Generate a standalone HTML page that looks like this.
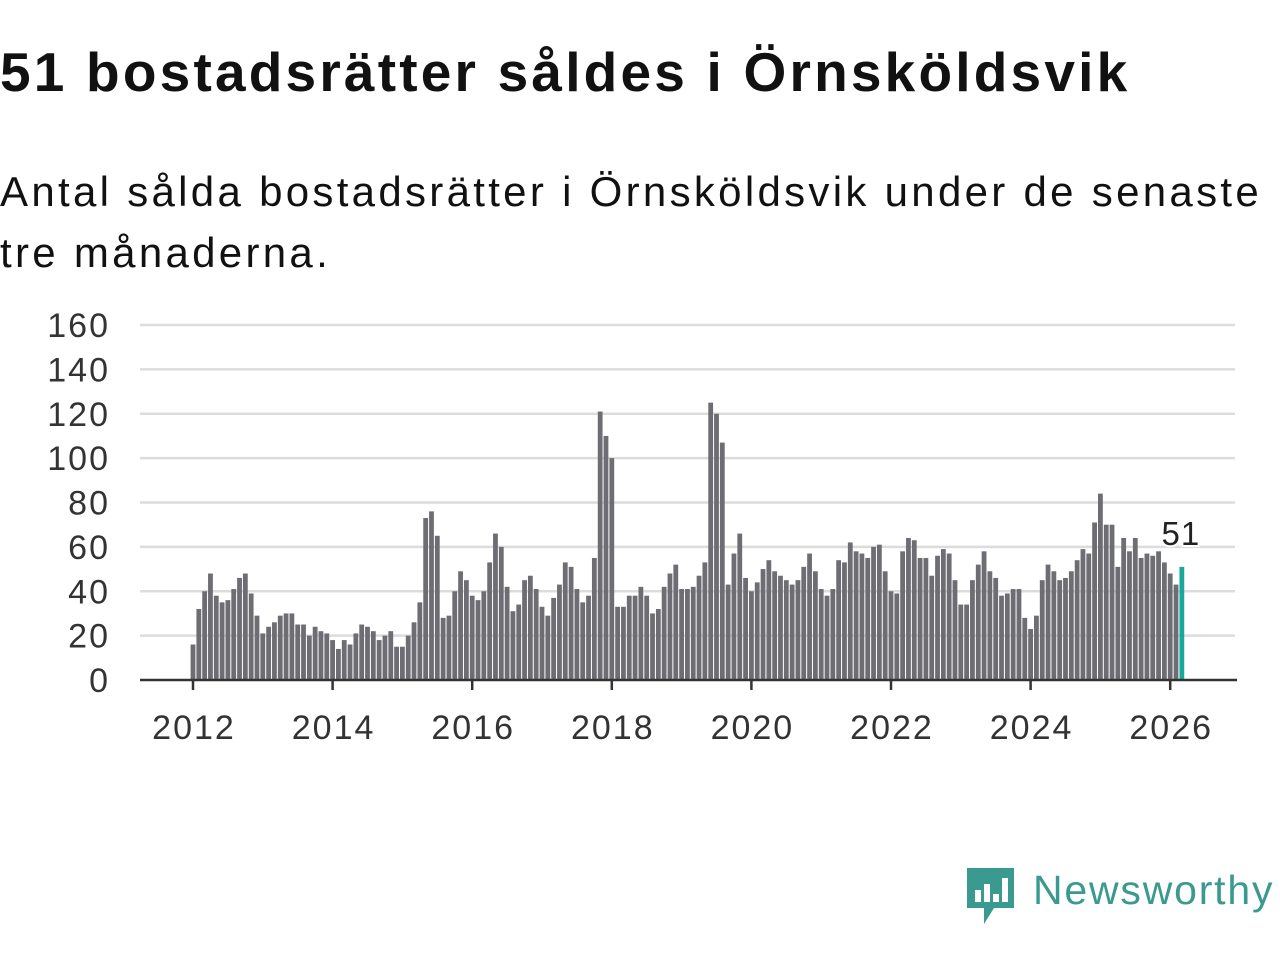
<!DOCTYPE html>
<html><head><meta charset="utf-8"><style>
body{margin:0;width:1280px;height:960px;background:#fff;overflow:hidden;font-family:"Liberation Sans","DejaVu Sans",sans-serif;color:#111}
#title{position:absolute;left:0;top:40px;font-size:55px;font-weight:bold;margin:0;white-space:nowrap;letter-spacing:3.2px}
#sub{position:absolute;left:0;top:161px;font-size:42px;line-height:61px;width:1275px;margin:0;letter-spacing:3.3px}
svg{position:absolute;left:0;top:0}
</style></head><body>
<h1 id="title">51 bostadsrätter såldes i Örnsköldsvik</h1>
<p id="sub">Antal sålda bostadsrätter i Örnsköldsvik under de senaste tre månaderna.</p>
<svg id="chart" width="1280" height="960"></svg>
<script>
const yTicks=[0,20,40,60,80,100,120,140,160];
const xTickYears=[2012,2014,2016,2018,2020,2022,2024,2026];
const startYear=2012;
const values2012=[16,32,40,48,38,35,36,41,46,48,39,29];
const values2013=[21,24,26,29,30,30,25,25,20,24,22,21];
const values2014=[18,14,18,16,21,25,24,22,18,20,22,15];
const values2015=[15,20,26,35,73,76,65,28,29,40,49,45];
const values2016=[38,36,40,53,66,60,42,31,34,45,47,41];
const values2017=[33,29,37,43,53,51,41,35,38,55,121,110];
const values2018=[100,33,33,38,38,42,38,30,32,42,48,52];
const values2019=[41,41,42,47,53,125,120,107,43,57,66,46];
const values2020=[40,44,50,54,49,47,45,43,45,51,57,49];
const values2021=[41,38,41,54,53,62,58,57,55,60,61,49];
const values2022=[40,39,58,64,63,55,55,47,56,59,57,45];
const values2023=[34,34,45,52,58,49,46,38,39,41,41,28];
const values2024=[23,29,45,52,49,45,46,49,54,59,57,71];
const values2025=[84,70,70,51,64,58,64,55,57,56,58,53];
const values2026=[48,43,51];
const values=[].concat(values2012,values2013,values2014,values2015,values2016,values2017,values2018,values2019,values2020,values2021,values2022,values2023,values2024,values2025,values2026);

const svg=document.getElementById('chart');
const NS='http://www.w3.org/2000/svg';
const x0=193, monthW=69.8/12, y0=680, yScale=(680-325)/160;
const xs=i=>x0+i*monthW;
const ys=v=>y0-v*yScale;
function mk(t,a){const e=document.createElementNS(NS,t);for(const k in a)e.setAttribute(k,a[k]);svg.appendChild(e);return e;}
yTicks.forEach(v=>{
  if(v>0){const g=mk('line',{x1:140,x2:1235,y1:ys(v),y2:ys(v),stroke:'#dcdcdc','stroke-width':2.5});
  
  }
  const t=mk('text',{x:110,y:ys(v)+12,'text-anchor':'end','font-size':34,'letter-spacing':2,fill:'#333'});
  t.textContent=v;
  
  
});
values.forEach((v,i)=>{
  const last=i===values.length-1;
  const r=mk('rect',{x:xs(i)-2.4,y:ys(v),width:4.8,height:v*yScale,fill:last?'#1aa89a':'#6e6d73'});
  
  
});
const ax=mk('line',{x1:140,x2:1237,y1:680,y2:680,stroke:'#333','stroke-width':2.5});


xTickYears.forEach(yr=>{
  const xi=xs((yr-startYear)*12);
  const tk=mk('line',{x1:xi,x2:xi,y1:680,y2:690,stroke:'#333','stroke-width':2.5});
  
  
  const t=mk('text',{x:xi+1,y:739,'text-anchor':'middle','font-size':34,'letter-spacing':2,fill:'#333'});
  t.textContent=yr;
  
  
});
const li=values.length-1;
const lab=mk('text',{x:xs(li)-1,y:ys(values[li])-22,'text-anchor':'middle','font-size':33,'letter-spacing':1,fill:'#222',stroke:'#fff','stroke-width':4,'paint-order':'stroke'});
lab.textContent=values[li];


</script>
<svg width="1280" height="960" style="pointer-events:none">
<path d="M967 868 h47 v40 h-20 l-10 16 v-16 h-17 z" fill="#3a9a8f"/>
<rect x="975" y="890" width="6" height="12" fill="#fff"/><rect x="984" y="884" width="6" height="18" fill="#fff"/><rect x="993" y="894" width="6" height="8" fill="#fff"/><rect x="1002" y="878" width="6" height="24" fill="#fff"/>
<text x="1033" y="904" font-size="41" letter-spacing="1.8" fill="#3a9a8f" font-family="Liberation Sans,sans-serif">Newsworthy</text>
</svg>
</body></html>
